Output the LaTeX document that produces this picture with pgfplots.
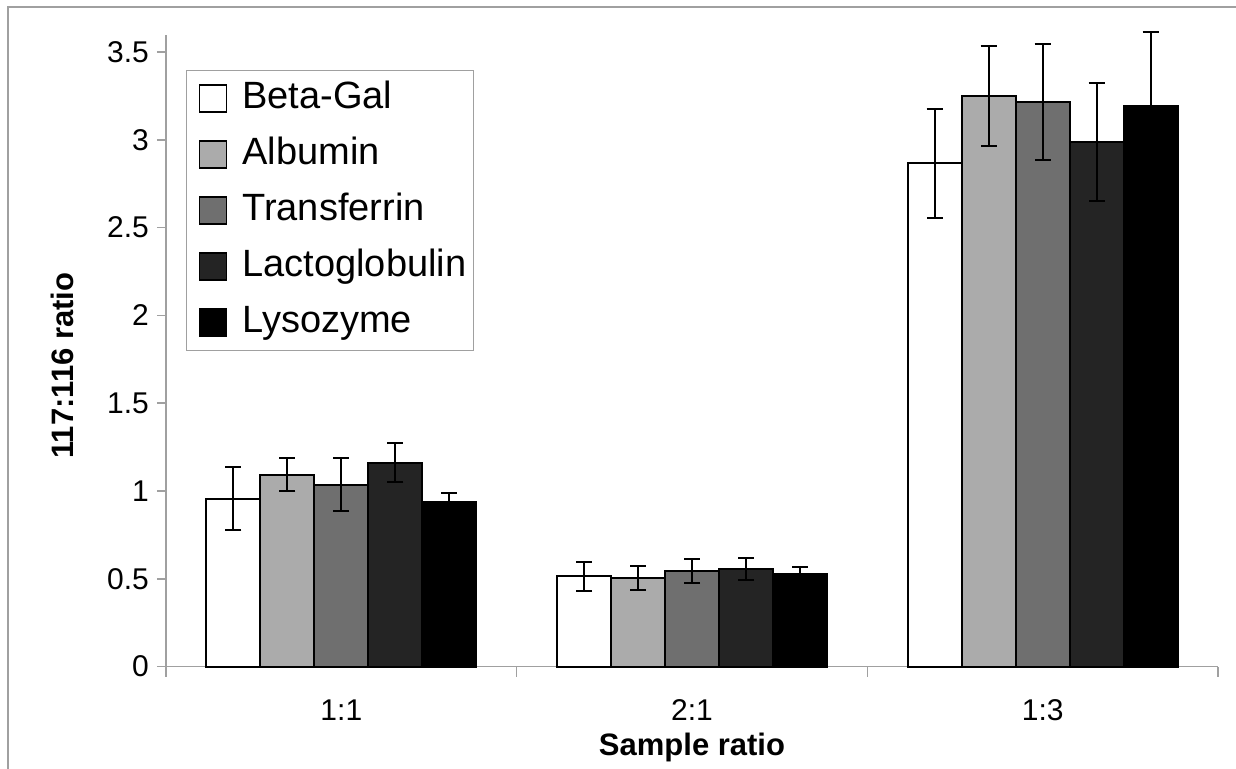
\documentclass[border=0pt]{standalone}
\usepackage{pgfplots}
\pgfplotsset{compat=1.18}
\usepackage{fontspec}
\setmainfont{Liberation Sans}
\definecolor{axgray}{HTML}{A0A0A0}
\definecolor{cAlb}{HTML}{ABABAB}
\definecolor{cTra}{HTML}{6F6F6F}
\definecolor{cLac}{HTML}{242424}
\begin{document}
\begin{tikzpicture}
\useasboundingbox (-83pt,-50.75pt) rectangle (535pt,333.25pt);
\draw[axgray, line width=0.8pt] (-79pt,-60pt) -- (-79pt,329.75pt) -- (545pt,329.75pt);
\begin{axis}[
  scale only axis, width=526pt, height=316pt,
  ymin=0, ymax=3.6, xmin=-0.5, xmax=2.5,
  ybar=0pt, bar width=27pt,
  axis x line*=bottom, axis y line*=left,
  axis line style={-, draw=axgray, line width=0.8pt},
  ytick={0,0.5,1,1.5,2,2.5,3,3.5},
  yticklabels={0,0.5,1,1.5,2,2.5,3,3.5},
  xtick={0,1,2}, xticklabels={1:1,2:1,1:3},
  minor xtick={-0.5,0.5,1.5,2.5},
  major x tick style={draw=none},
  tick align=outside,
  tick style={axgray, line width=0.8pt},
  major tick length=4.5pt, minor tick length=5pt,
  ticklabel style={font=\fontsize{15}{18}\selectfont},
  yticklabel style={xshift=-0.5pt},
  xticklabel style={anchor=base, yshift=-22.25pt},
  xlabel={Sample ratio}, ylabel={117:116 ratio},
  label style={font=\fontsize{15.5}{18}\selectfont\bfseries},
  xlabel style={at={(axis description cs:0.5,0)}, anchor=base, yshift=-44.25pt},
  ylabel style={at={(axis description cs:-0.0984,0.476)}, anchor=center},
  clip=false,
  legend cell align=left,
  legend image code/.code={\path (0pt,0pt); \draw[#1, line width=0.8pt] (4.5pt,-6.75pt) rectangle (18pt,6.75pt);},
  legend style={at={(rel axis cs:0.019,0.9438)}, anchor=north west,
    draw=axgray, line width=0.6pt, font=\fontsize{19}{22}\selectfont,
    inner xsep=1.5pt, inner ysep=0pt, row sep=0pt,
    /tikz/every odd column/.append style={column sep=5.5pt},
    nodes={text height=14pt, text depth=4pt, inner ysep=5pt}},
  every axis plot/.append style={draw=black, line width=1pt,
    error bars/y dir=both, error bars/y explicit,
    error bars/error bar style={line width=1pt, black},
    error bars/error mark options={rotate=90, mark size=4pt, line width=1pt, black}},
]
\addplot[fill=white] coordinates {(0,0.956) +- (0,0.178) (1,0.515) +- (0,0.083) (2,2.866) +- (0,0.31)};
\addplot[fill=cAlb] coordinates {(0,1.093) +- (0,0.094) (1,0.505) +- (0,0.069) (2,3.25) +- (0,0.285)};
\addplot[fill=cTra] coordinates {(0,1.036) +- (0,0.153) (1,0.546) +- (0,0.069) (2,3.214) +- (0,0.33)};
\addplot[fill=cLac] coordinates {(0,1.162) +- (0,0.11) (1,0.555) +- (0,0.063) (2,2.987) +- (0,0.338)};
\addplot[fill=black] coordinates {(0,0.938) +- (0,0.052) (1,0.527) +- (0,0.042) (2,3.19) +- (0,0.427)};
\legend{Beta-Gal,Albumin,Transferrin,Lactoglobulin,Lysozyme}
\end{axis}
\end{tikzpicture}
\end{document}
